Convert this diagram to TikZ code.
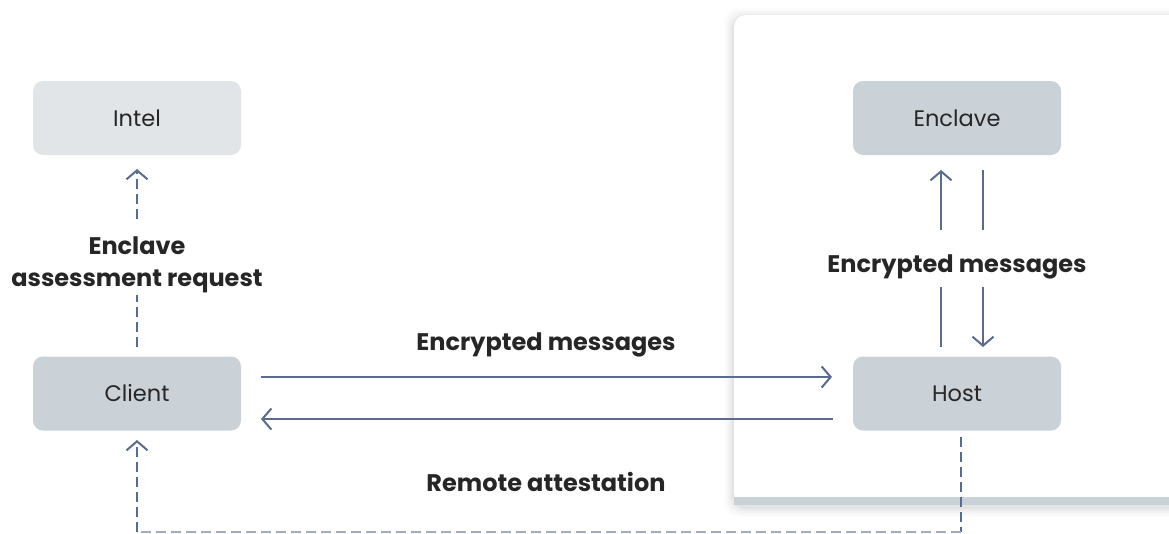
\documentclass[tikz,border=0pt]{standalone}
\usepackage{fontspec}
\setmainfont{Poppins}
\usetikzlibrary{arrows.meta}
\definecolor{linec}{HTML}{5B6B8A}
\definecolor{dashc}{HTML}{A3ABC0}
\definecolor{boxdark}{HTML}{CAD2D8}
\definecolor{boxlight}{HTML}{E1E5E8}
\definecolor{txt}{HTML}{262626}
\tikzset{
  x=1pt, y=-1pt,
  box/.style={rounded corners=10pt, minimum width=208pt, minimum height=74pt,
    inner sep=0pt, font=\fontsize{22.5}{26}\selectfont, text=txt},
  lbl/.style={font=\fontsize{24}{32}\selectfont\bfseries, text=txt, align=center},
  conn/.style={draw=linec, line width=2pt},
  tip/.style={-{Straight Barb[length=9pt,width=21pt,line width=2pt]}},
  dsh/.style={dash pattern=on 10pt off 5pt}
}
\begin{document}
\begin{tikzpicture}
\useasboundingbox (0,0) rectangle (1169,533);
\fill[white] (0,0) rectangle (1169,533);
% soft shadow of the host panel
\foreach \s/\o in {10/0.012,8/0.016,6/0.02,4/0.028,2/0.035}{
  \fill[black, opacity=\o, rounded corners=14pt] (734-\s,15-\s+3) rectangle (1190,505+\s+2);
}
% host panel
\fill[white, rounded corners=12pt] (734,15) rectangle (1190,505);
\fill[boxdark] (734,497) rectangle (1169,505);

% boxes
\node[box, fill=boxlight] (intel) at (137,118) {Intel};
\node[box, fill=boxdark] (client) at (137,393.5) {Client};
\node[box, fill=boxdark] (enclave) at (957,118) {Enclave};
\node[box, fill=boxdark] (host) at (957,393.5) {Host};

% client -> intel, broken around its label
\node[lbl] (assess) at (137,265) {Enclave\\assessment request};
\coordinate (ca) at (137,347);
\coordinate (cb) at (137,295);
\coordinate (ib) at (137,219);
\coordinate (ia) at (137,169);
\draw[conn, dsh] (ca) -- (cb);
\draw[conn, dsh, tip] (ib) -- (ia);

% client <-> host
\coordinate (c1) at (261,377);
\coordinate (h1) at (832,377);
\coordinate (c2) at (261,419);
\coordinate (h2) at (833,419);
\draw[conn, tip] (c1) -- (h1);
\draw[conn, tip] (h2) -- (c2);
\node[lbl] (encmsg) at (546,345) {Encrypted messages};

% host <-> enclave
\node[lbl] (encmsg2) at (957,267) {Encrypted messages};
\coordinate (u1) at (941,230);
\coordinate (u2) at (941,170);
\coordinate (u3) at (983,170);
\coordinate (u4) at (983,230);
\coordinate (d1) at (941,287);
\coordinate (d2) at (941,347);
\coordinate (d3) at (983,287);
\coordinate (d4) at (983,347);
\draw[conn, tip] (u1) -- (u2);
\draw[conn] (u3) -- (u4);
\draw[conn] (d1) -- (d2);
\draw[conn, tip] (d3) -- (d4);

% remote attestation
\node[lbl] (remote) at (546,482) {Remote attestation};
\coordinate (hs) at (961,437);
\coordinate (hc) at (961,532);
\coordinate (cc) at (137,532);
\coordinate (ce) at (137,440);
\draw[draw=linec, line width=2pt, dsh] (hs) -- (hc);
\draw[draw=dashc, line width=2pt, dsh] (hc) -- (cc);
\draw[conn, dsh, tip] (cc) -- (ce);
\end{tikzpicture}
\end{document}
